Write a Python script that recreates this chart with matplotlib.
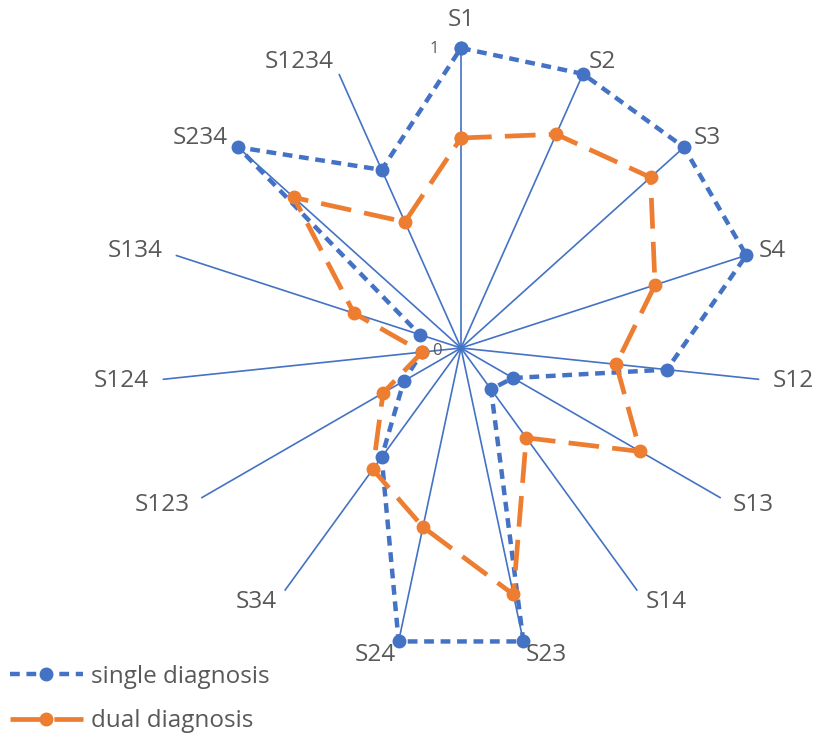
import numpy as np
import matplotlib
matplotlib.use("Agg")
import matplotlib.pyplot as plt

categories = ["S1", "S2", "S3", "S4", "S12", "S13", "S14", "S23", "S24",
              "S34", "S123", "S124", "S134", "S234", "S1234"]
single = [1.0, 1.0, 1.0, 1.0, 0.69, 0.20, 0.17, 1.0, 1.0,
          0.45, 0.22, 0.13, 0.145, 1.0, 0.65]
dual = [0.70, 0.78, 0.85, 0.68, 0.52, 0.69, 0.37, 0.84, 0.61,
        0.50, 0.30, 0.13, 0.375, 0.75, 0.46]
series_names = ["single diagnosis", "dual diagnosis"]
axis_ticks = [0, 1]

BLUE = "#4472C4"
ORANGE = "#ED7D31"
GRAY = "#595959"
plt.rcParams["font.family"] = ["Open Sans", "DejaVu Sans"]

fig = plt.figure(figsize=(8.16, 7.38), dpi=100)
cx, cy, R = 461, 348, 300
W, H = 816, 738
ax = fig.add_axes([(cx - R) / W, (H - cy - R) / H, 2 * R / W, 2 * R / H],
                  projection="polar")
ax.set_theta_zero_location("N")
ax.set_theta_direction(-1)
ax.set_ylim(0, 1)
ax.grid(False)
ax.spines["polar"].set_visible(False)
ax.set_xticks([])
ax.set_yticks([])
ax.patch.set_alpha(0)

n = len(categories)
theta = np.arange(n) * 2 * np.pi / n

for t in theta:
    ax.plot([t, t], [0, 1], color=BLUE, lw=1.2, zorder=1)

th_c = np.append(theta, theta[0])
s_c = np.append(single, single[0])
d_c = np.append(dual, dual[0])

l1, = ax.plot(th_c, s_c, color=BLUE, lw=3.2, ls=(0, (2.2, 1.5)),
              marker="o", ms=9, label=series_names[0], zorder=3,
              clip_on=False)
l2, = ax.plot(th_c, d_c, color=ORANGE, lw=3.4, ls=(0, (6.5, 2.8)),
              marker="o", ms=9, label=series_names[1], zorder=3,
              clip_on=False)

for t, lab in zip(theta, categories):
    s = np.sin(t)
    if abs(s) < 0.01:
        ha, va, r = "center", "bottom", 1.055
    else:
        ha, va, r = ("left" if s > 0 else "right"), "center", 1.045
    ax.text(t, r, lab, ha=ha, va=va, fontsize=17.5, color=GRAY, clip_on=False)

ax.annotate(str(axis_ticks[1]), xy=(0, axis_ticks[1]), xytext=(-16, -1),
            textcoords="offset points", ha="right", va="center",
            fontsize=12, color=GRAY)
ax.annotate(str(axis_ticks[0]), xy=(0, axis_ticks[0]), xytext=(-14, -2),
            textcoords="offset points", ha="right", va="center",
            fontsize=12, color=GRAY)

fig.legend(handles=[l1, l2], loc="lower left", bbox_to_anchor=(-0.012, -0.02),
           frameon=False, fontsize=17.5, labelcolor=GRAY, handlelength=3.0,
           handletextpad=0.35, labelspacing=0.85, borderpad=0.3)

fig.savefig("out.png", dpi=100)
